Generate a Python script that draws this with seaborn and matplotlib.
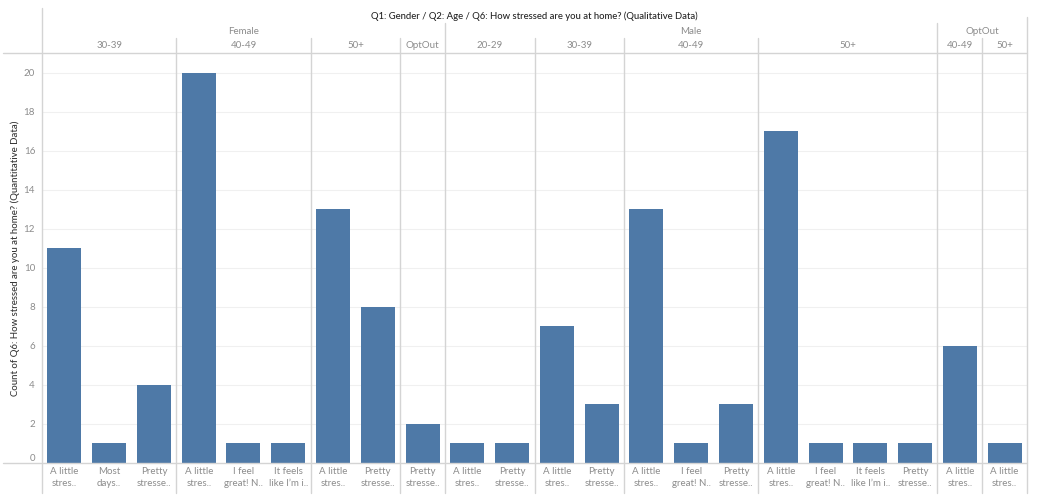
import numpy as np
import pandas as pd
import matplotlib
matplotlib.use("Agg")
import matplotlib.pyplot as plt
import seaborn as sns
from matplotlib.transforms import blended_transform_factory
from itertools import groupby

# ---------------- data ----------------
AL = "A little\nstres.."
MD = "Most\ndays.."
PS = "Pretty\nstresse.."
IF = "I feel\ngreat! N.."
IT = "It feels\nlike I\u2019m i.."

gender = ["Female"] * 9 + ["Male"] * 11 + ["OptOut"] * 2
age = (["30-39"] * 3 + ["40-49"] * 3 + ["50+"] * 2 + ["OptOut"]
       + ["20-29"] * 2 + ["30-39"] * 2 + ["40-49"] * 3 + ["50+"] * 4
       + ["40-49", "50+"])
response = [AL, MD, PS, AL, IF, IT, AL, PS, PS,
            AL, PS, AL, PS, AL, IF, PS, AL, IF, IT, PS,
            AL, AL]
counts = [11, 1, 4, 20, 1, 1, 13, 8, 2,
          1, 1, 7, 3, 13, 1, 3, 17, 1, 1, 1,
          6, 1]

title = "Q1: Gender / Q2: Age / Q6: How stressed are you at home? (Qualitative Data)"
ylabel = "Count of Q6: How stressed are you at home? (Quantitative Data)"
yticks = list(range(0, 21, 2))

df = pd.DataFrame(dict(gender=gender, age=age, response=response, count=counts))
df["key"] = df["gender"] + "|" + df["age"] + "|" + df["response"]
n = len(df)

# ---------------- style ----------------
sns.set_theme(style="white")
plt.rcParams["font.family"] = ["Lato", "DejaVu Sans"]

W, H = 1040, 498
X0, X1, Y0, Y1 = 42, 1027, 463, 53
BAR = "#4e79a7"
SEP = "#d4d4d4"
GRID = "#f0f0f0"
LBL = "#8c8c8c"

fig = plt.figure(figsize=(W / 100, H / 100), dpi=100)
fig.patch.set_facecolor("white")
ax = fig.add_axes([X0 / W, 1 - Y0 / H, (X1 - X0) / W, (Y0 - Y1) / H])

sns.barplot(data=df, x="key", y="count", order=list(df["key"]), color=BAR,
            saturation=1, width=0.76, linewidth=0, ax=ax, zorder=3)

ax.set_xlim(-0.5, n - 0.5)
ax.set_ylim(0, 21)
for s in ax.spines.values():
    s.set_visible(False)

# gridlines
for y in yticks[1:]:
    ax.axhline(y, color=GRID, lw=0.8, zorder=0)


def ax_y(p):
    return (Y0 - p) / (Y0 - Y1)


# baseline & header bottom line
left_ext = (3 - X0) / (X1 - X0)
for yy in (0, 1):
    ax.plot([left_ext, 1], [yy, yy], transform=ax.transAxes, clip_on=False,
            color=SEP, lw=1, zorder=4)

trans = blended_transform_factory(ax.transData, ax.transAxes)
bottom = ax_y(493)

# separators
pos = np.arange(n)
keys_g = list(df["gender"])
keys_ga = list(zip(df["gender"], df["age"]))
for i in range(1, n):
    if keys_g[i] != keys_g[i - 1]:
        top = ax_y(23)
    elif keys_ga[i] != keys_ga[i - 1]:
        top = ax_y(38)
    else:
        continue
    ax.plot([i - 0.5, i - 0.5], [bottom, top], transform=trans, clip_on=False,
            color=SEP, lw=1, zorder=4)
ax.plot([-0.5, -0.5], [bottom, ax_y(8)], transform=trans, clip_on=False,
        color=SEP, lw=1, zorder=4)
ax.plot([n - 0.5, n - 0.5], [bottom, ax_y(17)], transform=trans, clip_on=False,
        color=SEP, lw=1, zorder=4)

# header labels
i = 0
for g, grp in groupby(keys_g):
    m = len(list(grp))
    ax.text(i + (m - 1) / 2, ax_y(31), g, transform=trans, ha="center",
            va="center", fontsize=7, color=LBL)
    i += m
i = 0
for (g, a), grp in groupby(keys_ga):
    m = len(list(grp))
    ax.text(i + (m - 1) / 2, ax_y(46), a, transform=trans, ha="center",
            va="center", fontsize=7, color=LBL)
    i += m

fig.text((X0 + X1) / 2 / W, 1 - 16 / H, title, ha="center", va="center",
         fontsize=6.8, color="#222222", fontweight="medium")
fig.text(15 / W, 1 - 258 / H, ylabel, rotation=90, ha="center", va="center",
         fontsize=6.9, color="#333333", fontweight="medium")

# ticks
ax.set_xticks(pos)
ax.set_xticklabels(df["response"], fontsize=7, color=LBL, linespacing=1.35)
ax.set_yticks(yticks)
ax.set_yticklabels([str(t) for t in yticks], fontsize=7, color=LBL)
ax.tick_params(axis="x", length=0, pad=3)
ax.tick_params(axis="y", length=0, pad=5)
ax.get_yticklabels()[0].set_va("bottom")
ax.set_xlabel("")
ax.set_ylabel("")

fig.savefig("out.png", dpi=100, facecolor="white")
